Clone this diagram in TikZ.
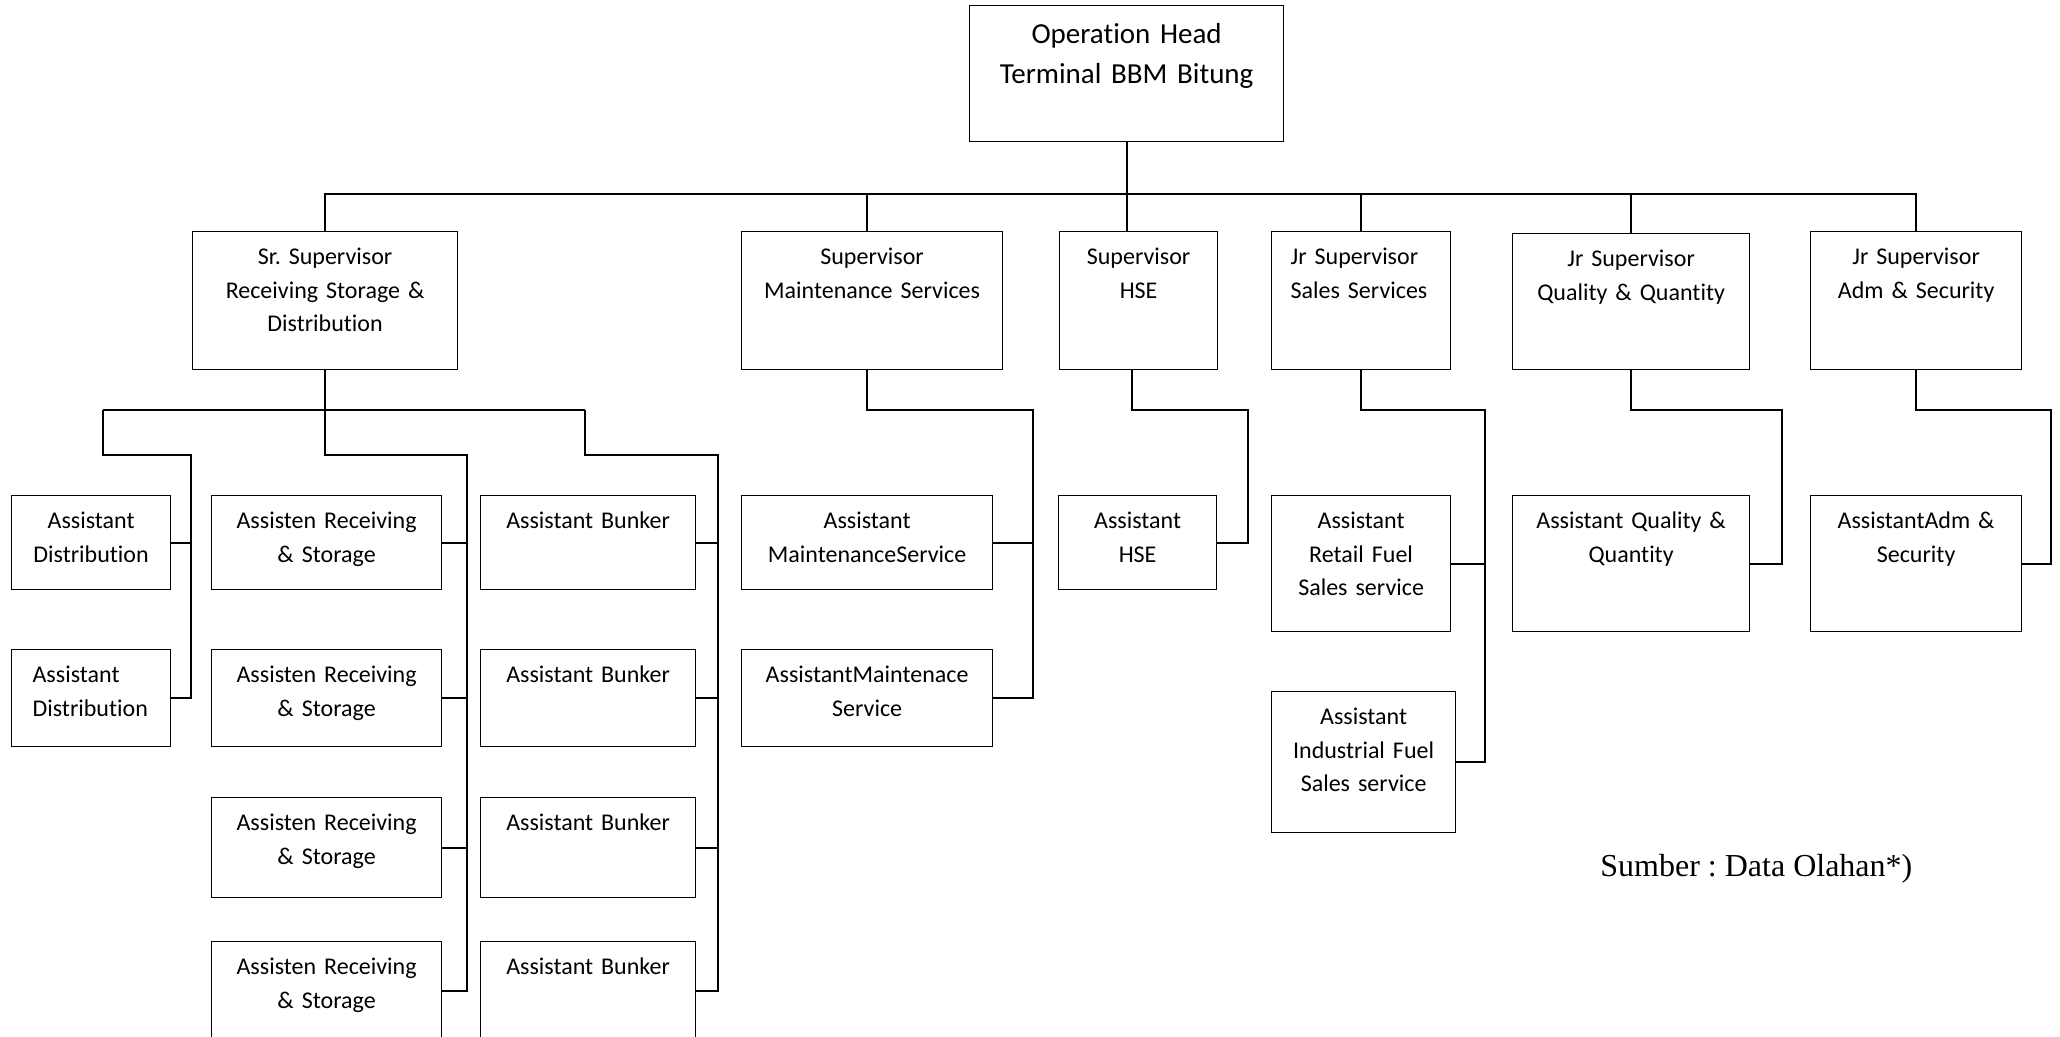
\documentclass[tikz,border=0pt]{standalone}
\usepackage{fontspec}
\setmainfont{Carlito}[Ligatures=NoCommon]
\newfontfamily\notefont{Liberation Serif}
\usepackage{tikz}
\frenchspacing

\begin{document}
\begin{tikzpicture}[
    x=0.5pt, y=-0.5pt,
    link/.style={draw, line width=0.9pt},
    boxbase/.style={draw, line width=0.6pt, anchor=north west, inner sep=0pt, align=center},
    topbox/.style={boxbase, font=\fontsize{14.5}{20}\selectfont, text height=19pt},
    sup/.style={boxbase, font=\fontsize{12}{16.75}\selectfont, text height=16.5pt, text depth=52.5pt},
    staff/.style={boxbase, font=\fontsize{12}{16.75}\selectfont, text height=16.5pt},
    rowA/.style={text depth=30.5pt},
    rowB/.style={text depth=32pt},
    rowC/.style={text depth=33.5pt},
    rowD/.style={text depth=33pt},
    tall/.style={text depth=51.5pt},
]

\path[use as bounding box, fill=white] (0,0) rectangle (2060,1037);

% Operation Head
\node[topbox, text width=157pt, text depth=49pt] (head) at (969,5) {Operation Head\\Terminal BBM Bitung};

% Supervisors
\node[sup, text width=132.5pt] (sr) at (192,231) {Sr. Supervisor\\Receiving Storage \&\\Distribution};
\node[sup, text width=130.5pt] (maint) at (741,231) {Supervisor\\Maintenance Services};
\node[sup, text width=79pt] (hse) at (1059,231) {Supervisor\\HSE};
\node[sup, align=left, inner xsep=9.5pt, text width=70.5pt] (sales) at (1271,231) {Jr Supervisor\\Sales Services};
\node[sup, text width=118.5pt, text depth=51.5pt] (qq) at (1512,233) {Jr Supervisor\\Quality \& Quantity};
\node[sup, text width=105.5pt] (adm) at (1810,231) {Jr Supervisor\\Adm \& Security};

% Distribution
\node[staff, rowA, text width=79.5pt] (dist1) at (11,495) {Assistant\\Distribution};
\node[staff, rowB, align=left, inner xsep=10.5pt, text width=58.5pt] (dist2) at (11,649) {Assistant\\Distribution};

% Receiving & Storage
\node[staff, rowA, text width=115pt] (recv1) at (211,495) {Assisten Receiving\\\& Storage};
\node[staff, rowB, text width=115pt] (recv2) at (211,649) {Assisten Receiving\\\& Storage};
\node[staff, rowC, text width=115pt] (recv3) at (211,797) {Assisten Receiving\\\& Storage};
\node[staff, rowD, text width=115pt] (recv4) at (211,941) {Assisten Receiving\\\& Storage};

% Bunker
\node[staff, rowA, text width=107.5pt] (bunk1) at (480,495) {Assistant Bunker};
\node[staff, rowB, text width=107.5pt] (bunk2) at (480,649) {Assistant Bunker};
\node[staff, rowC, text width=107.5pt] (bunk3) at (480,797) {Assistant Bunker};
\node[staff, rowD, text width=107.5pt] (bunk4) at (480,941) {Assistant Bunker};

% Maintenance
\node[staff, rowA, text width=125.5pt] (amaint1) at (741,495) {Assistant\\MaintenanceService};
\node[staff, rowB, text width=125.5pt] (amaint2) at (741,649) {AssistantMaintenace\\Service};

% HSE
\node[staff, rowA, text width=79pt] (ahse) at (1058,495) {Assistant\\HSE};

% Sales
\node[staff, tall, text width=89.5pt] (retail) at (1271,495) {Assistant\\Retail Fuel\\Sales service};
\node[staff, text depth=54pt, text width=92pt] (indus) at (1271,691) {Assistant\\Industrial Fuel\\Sales service};

% Quality & Quantity, Adm & Security
\node[staff, tall, text width=118.5pt] (aqq) at (1512,495) {Assistant Quality \&\\Quantity};
\node[staff, tall, text width=105.5pt] (aadm) at (1810,495) {AssistantAdm \&\\Security};

% Source
\node[font=\notefont\fontsize{16}{19}\selectfont, anchor=base west, inner sep=0pt] (note) at (1600,876) {Sumber : Data Olahan*)};

% Top level lines
\coordinate (bus) at (0,194);
\draw[link] (head.south) -- (head.south |- hse.north);
\draw[link] (sr.north) -- (sr.north |- bus) -- (adm.north |- bus) -- (adm.north);
\draw[link] ([xshift=-2.5pt]maint.north) -- ([xshift=-2.5pt]maint.north |- bus);
\draw[link] (sales.north) -- (sales.north |- bus);
\draw[link] (qq.north) -- (qq.north |- bus);

% Sr. Supervisor lines
\coordinate (srbusL) at (103,410);
\coordinate (srbusR) at (585,410);
\coordinate (distline) at (191,455);
\coordinate (recvline) at (467,455);
\coordinate (bunkline) at (718,455);
\draw[link] (sr.south) -- (sr.south |- srbusL);
\draw[link] (srbusL) -- (srbusR);
\draw[link] (srbusL) |- (distline) -- (distline |- dist2.east) -- (dist2.east);
\draw[link] (dist1.east) -- (dist1.east -| distline);
\draw[link] (sr.south |- srbusL) |- (recvline) -- (recvline |- recv4.east) -- (recv4.east);
\draw[link] (recv1.east) -- (recv1.east -| recvline);
\draw[link] (recv2.east) -- (recv2.east -| recvline);
\draw[link] (recv3.east) -- (recv3.east -| recvline);
\draw[link] (srbusR) |- (bunkline) -- (bunkline |- bunk4.east) -- (bunk4.east);
\draw[link] (bunk1.east) -- (bunk1.east -| bunkline);
\draw[link] (bunk2.east) -- (bunk2.east -| bunkline);
\draw[link] (bunk3.east) -- (bunk3.east -| bunkline);

% Other supervisors lines
\coordinate (maintline) at (1033,410);
\coordinate (hseline) at (1248,410);
\coordinate (salesline) at (1485,410);
\coordinate (qqline) at (1782,410);
\coordinate (admline) at (2051,410);
\draw[link] ([xshift=-2.5pt]maint.south) |- (maintline) -- (maintline |- amaint2.east) -- (amaint2.east);
\draw[link] (amaint1.east) -- (amaint1.east -| maintline);
\draw[link] ([xshift=-3.5pt]hse.south) |- (hseline) -- (hseline |- ahse.east) -- (ahse.east);
\draw[link] (sales.south) |- (salesline) -- (salesline |- indus.east) -- (indus.east);
\draw[link] (retail.east) -- (retail.east -| salesline);
\draw[link] (qq.south) |- (qqline) -- (qqline |- aqq.east) -- (aqq.east);
\draw[link] (adm.south) |- (admline) -- (admline |- aadm.east) -- (aadm.east);

\end{tikzpicture}
\end{document}
